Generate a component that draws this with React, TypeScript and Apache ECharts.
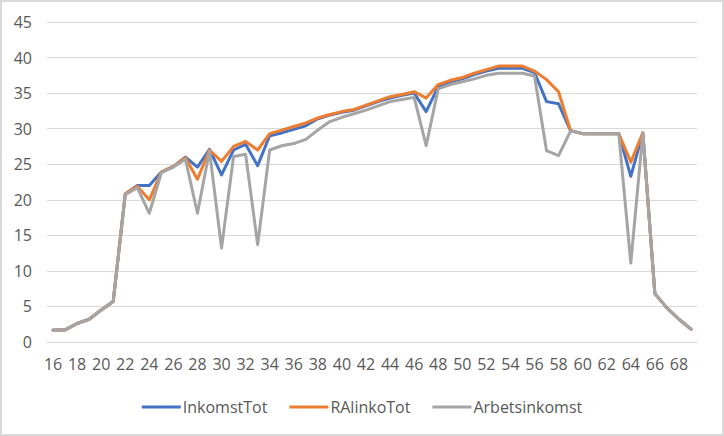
import { useEffect, useRef } from "react";
import * as echarts from "echarts";

const ages = Array.from({ length: 54 }, (_, i) => String(16 + i));

const inkomstTot = [
  1.7, 1.7, 2.6, 3.2, 4.5, 5.7, 20.8, 22.0, 22.0, 23.9,
  24.7, 26.0, 24.6, 27.1, 23.5, 27.0, 27.8, 24.8, 29.0, 29.4,
  29.9, 30.4, 31.4, 31.9, 32.3, 32.6, 33.2, 33.8, 34.3, 34.7,
  35.0, 32.4, 35.9, 36.6, 37.0, 37.6, 38.1, 38.5, 38.5, 38.5,
  37.9, 33.8, 33.5, 29.7, 29.3, 29.3, 29.3, 29.3, 23.3, 29.4,
  6.8, 4.8, 3.2, 1.8,
];

const raInkoTot = [
  1.7, 1.7, 2.6, 3.2, 4.5, 5.7, 20.8, 21.9, 20.0, 23.9,
  24.7, 25.9, 22.9, 27.0, 25.4, 27.5, 28.2, 27.0, 29.3, 29.8,
  30.3, 30.8, 31.5, 32.0, 32.4, 32.7, 33.3, 33.9, 34.5, 34.8,
  35.2, 34.3, 36.2, 36.8, 37.2, 37.8, 38.3, 38.8, 38.8, 38.8,
  38.1, 36.9, 35.2, 29.7, 29.3, 29.3, 29.3, 29.3, 25.3, 29.4,
  6.8, 4.8, 3.2, 1.8,
];

const arbetsinkomst = [
  1.7, 1.7, 2.6, 3.2, 4.5, 5.7, 20.7, 21.7, 18.1, 23.8,
  24.6, 25.7, 18.1, 26.9, 13.2, 26.1, 26.4, 13.7, 27.0, 27.6,
  27.9, 28.5, 29.8, 31.0, 31.6, 32.1, 32.6, 33.2, 33.8, 34.1,
  34.4, 27.6, 35.6, 36.2, 36.6, 37.0, 37.5, 37.8, 37.8, 37.8,
  37.4, 26.9, 26.2, 29.7, 29.3, 29.3, 29.3, 29.3, 11.1, 29.4,
  6.8, 4.8, 3.2, 1.8,
];

const FONT = "'Open Sans', sans-serif";
const TEXT = "#595959";
const GRID = "#D9D9D9";

function line(name: string, data: number[], color: string) {
  return {
    name,
    type: "line" as const,
    data,
    showSymbol: false,
    symbol: "none",
    itemStyle: { color },
    lineStyle: { color, width: 3, cap: "round" as const, join: "round" as const },
  };
}

export default function App() {
  const ref = useRef<HTMLDivElement | null>(null);

  useEffect(() => {
    if (!ref.current) return;
    const chart = echarts.init(ref.current, null, { renderer: "svg" });
    chart.setOption({
      animation: false,
      backgroundColor: "#ffffff",
      textStyle: { fontFamily: FONT },
      grid: { left: 47, right: 27, top: 22, bottom: 94, containLabel: false },
      graphic: [
        {
          type: "rect",
          shape: { x: 1, y: 1, width: 722, height: 434 },
          style: { fill: "none", stroke: GRID, lineWidth: 2 },
          silent: true,
        },
      ],
      legend: {
        top: 394,
        left: "center",
        icon: "rect",
        itemWidth: 39,
        itemHeight: 3,
        itemGap: 22,
        textStyle: { color: TEXT, fontSize: 16, fontFamily: FONT, padding: [0, 0, 0, -3] },
        data: ["InkomstTot", "RAlinkoTot", "Arbetsinkomst"],
      },
      xAxis: {
        type: "category",
        data: ages,
        boundaryGap: true,
        axisLine: { lineStyle: { color: GRID, width: 1 } },
        axisTick: { show: false },
        axisLabel: { interval: 1, color: TEXT, fontSize: 16, fontFamily: FONT, margin: 14 },
      },
      yAxis: {
        type: "value",
        min: 0,
        max: 45,
        interval: 5,
        axisLine: { show: false },
        axisTick: { show: false },
        axisLabel: { color: TEXT, fontSize: 16, fontFamily: FONT, margin: 15 },
        splitLine: { lineStyle: { color: GRID, width: 1 } },
      },
      series: [
        line("InkomstTot", inkomstTot, "#4472C4"),
        line("RAlinkoTot", raInkoTot, "#ED7D31"),
        line("Arbetsinkomst", arbetsinkomst, "#A5A5A5"),
      ],
    });
    return () => chart.dispose();
  }, []);

  return (
    <div
      ref={ref}
      style={{ position: "absolute", left: 0, top: 0, width: 724, height: 436 }}
    />
  );
}
